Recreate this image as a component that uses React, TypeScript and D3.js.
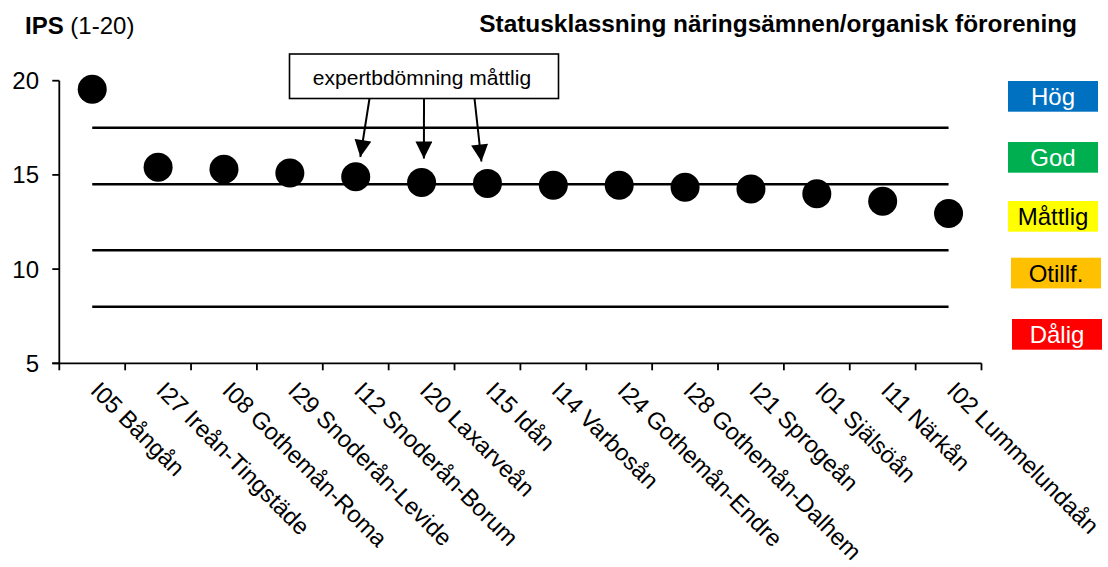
import React from "react";
import * as d3 from "d3";

const categories = [
  "I05 Bångån",
  "I27 Ireån-Tingstäde",
  "I08 Gothemån-Roma",
  "I29 Snoderån-Levide",
  "I12 Snoderån-Borum",
  "I20 Laxarveån",
  "I15 Idån",
  "I14 Varbosån",
  "I24 Gothemån-Endre",
  "I28 Gothemån-Dalhem",
  "I21 Sprogeån",
  "I01 Själsöån",
  "I11 Närkån",
  "I02 Lummelundaån",
];
const ipsValues = [19.55, 15.4, 15.3, 15.1, 14.9, 14.6, 14.55, 14.45, 14.45, 14.35, 14.25, 14.0, 13.6, 12.95];
const yTicks = [5, 10, 15, 20];
const thresholds = [17.5, 14.5, 11, 8];
const legendLabels = ["Hög", "God", "Måttlig", "Otillf.", "Dålig"];
const legendColors = ["#0070C0", "#00B050", "#FFFF00", "#FFC000", "#FF0000"];
const legendTextColors = ["#FFFFFF", "#FFFFFF", "#000000", "#000000", "#FFFFFF"];
const annotationText = "expertbdömning måttlig";
const annotatedCategories = ["I12 Snoderån-Borum", "I20 Laxarveån", "I15 Idån"];

const FONT = "'Liberation Sans', Arial, Helvetica, sans-serif";

export default function App() {
  const width = 1108;
  const height = 567;
  const left = 59.3;
  const right = 981.5;
  const top = 80.7;
  const bottom = 363.3;

  const x = d3.scaleBand<string>().domain(categories).range([left, right]).padding(0);
  const y = d3.scaleLinear().domain([5, 20]).range([bottom, top]);
  const cx = (c: string) => (x(c) as number) + x.bandwidth() / 2;

  const tickXs = categories.map((c) => x(c) as number).concat([right]);

  // legend layout
  const legendBoxes = [
    { x: 1008, y: 81 },
    { x: 1008, y: 142 },
    { x: 1008, y: 201 },
    { x: 1011, y: 257.7 },
    { x: 1012, y: 319 },
  ];

  // annotation layout
  const box = { x: 289.5, y: 54, w: 269, h: 44.5 };
  const arrowStarts = [369.5, 424, 474.5];
  const arrowTipOffsets = [4.6, 2.3, -6];
  const arrowTipYs = [157, 158.5, 161.5];

  return (
    <svg
      width={width}
      height={height}
      style={{ position: "absolute", left: 0, top: 0, background: "#fff" }}
      fontFamily={FONT}
    >
      <defs>
        <marker
          id="arrowhead"
          viewBox="0 0 10 10"
          refX="10"
          refY="5"
          markerUnits="userSpaceOnUse"
          markerWidth="18"
          markerHeight="17"
          orient="auto"
        >
          <path d="M0,0 L10,5 L0,10 Z" fill="#000" />
        </marker>
      </defs>

      {/* titles */}
      <text x={25} y={34} fontSize={24} fill="#000">
        <tspan fontWeight="bold">IPS</tspan>
        <tspan> (1-20)</tspan>
      </text>
      <text x={1077} y={32} fontSize={24.4} fontWeight="bold" textAnchor="end" fill="#000">
        Statusklassning näringsämnen/organisk förorening
      </text>

      {/* threshold lines */}
      {thresholds.map((t) => (
        <line
          key={t}
          x1={cx(categories[0])}
          x2={cx(categories[categories.length - 1])}
          y1={y(t)}
          y2={y(t)}
          stroke="#000"
          strokeWidth={2.5}
        />
      ))}

      {/* y axis */}
      <line x1={left} x2={left} y1={top} y2={bottom} stroke="#000" strokeWidth={1.8} />
      {yTicks.map((t) => (
        <g key={t}>
          <line x1={left - 7} x2={left} y1={y(t)} y2={y(t)} stroke="#000" strokeWidth={1.8} />
          <text x={39} y={y(t)} dy="0.35em" fontSize={24} textAnchor="end" fill="#000">
            {t}
          </text>
        </g>
      ))}

      {/* x axis */}
      <line x1={left - 7} x2={right} y1={bottom} y2={bottom} stroke="#000" strokeWidth={1.8} />
      {tickXs.map((tx, i) => (
        <line key={i} x1={tx} x2={tx} y1={bottom} y2={bottom + 7} stroke="#000" strokeWidth={1.8} />
      ))}
      {categories.map((c) => (
        <text
          key={c}
          transform={`translate(${cx(c) - 3},392) rotate(45)`}
          fontSize={23.7}
          textAnchor="start"
          fill="#000"
        >
          {c}
        </text>
      ))}

      {/* dots */}
      {categories.map((c, i) => (
        <circle key={c} cx={cx(c)} cy={y(ipsValues[i])} r={14.5} fill="#000" />
      ))}

      {/* annotation */}
      <rect x={box.x} y={box.y} width={box.w} height={box.h} fill="#fff" stroke="#000" strokeWidth={1.6} />
      <text x={box.x + box.w / 2 - 2} y={85} fontSize={21} textAnchor="middle" fill="#000">
        {annotationText}
      </text>
      {annotatedCategories.map((c, i) => (
        <line
          key={c}
          x1={arrowStarts[i]}
          y1={box.y + box.h}
          x2={cx(c) + arrowTipOffsets[i]}
          y2={arrowTipYs[i]}
          stroke="#000"
          strokeWidth={2}
          markerEnd="url(#arrowhead)"
        />
      ))}

      {/* legend */}
      {legendLabels.map((l, i) => (
        <g key={l}>
          <rect x={legendBoxes[i].x} y={legendBoxes[i].y} width={90} height={30.7} fill={legendColors[i]} />
          <text
            x={legendBoxes[i].x + 45}
            y={legendBoxes[i].y + 15.35}
            dy="0.36em"
            fontSize={24}
            textAnchor="middle"
            fill={legendTextColors[i]}
          >
            {l}
          </text>
        </g>
      ))}
    </svg>
  );
}
